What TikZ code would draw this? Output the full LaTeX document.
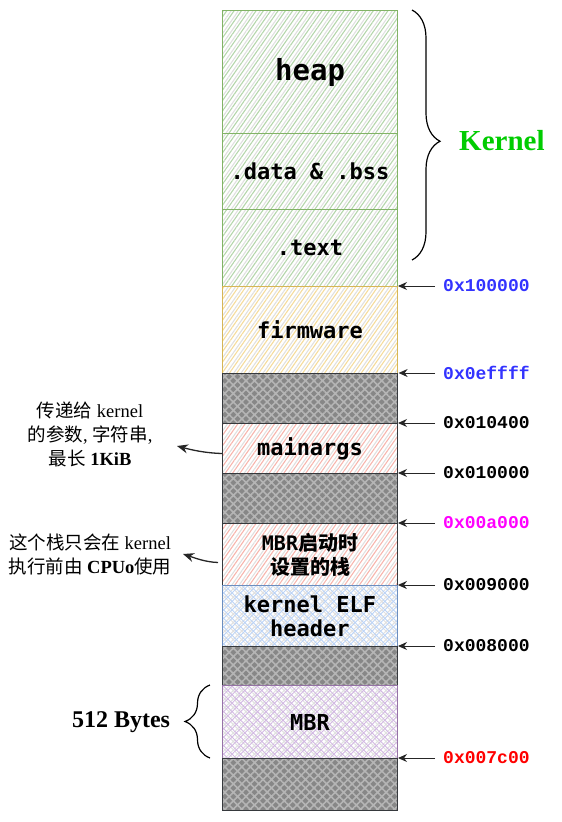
\documentclass[tikz,border=0pt]{standalone}
\usepackage{fontspec}
\setmainfont{Liberation Serif}
\newfontfamily\cjk{Noto Sans CJK SC}
\newfontfamily\boxmono{DejaVu Sans Mono}
\newfontfamily\addrmono{Liberation Mono}
\usetikzlibrary{patterns.meta,arrows.meta,decorations.pathreplacing,calc}
\definecolor{gborder}{HTML}{82B366}
\definecolor{ghatch}{HTML}{B5D6AC}
\definecolor{yborder}{HTML}{D6B656}
\definecolor{yhatch}{HTML}{F5DC9C}
\definecolor{rborder}{HTML}{36393D}
\definecolor{rhatch}{HTML}{F7B5AD}
\definecolor{bborder}{HTML}{6C8EBF}
\definecolor{bhatch}{HTML}{BCD3F5}
\definecolor{pborder}{HTML}{9673A6}
\definecolor{phatch}{HTML}{D2B9E2}
\definecolor{ghline}{HTML}{E0E0E0}
\definecolor{grayfill}{HTML}{878787}
\definecolor{grayline}{HTML}{B5B5B5}
\definecolor{addrblue}{HTML}{3333FF}
\definecolor{addrmag}{HTML}{FF00FF}
\definecolor{addrred}{HTML}{FF0000}
\definecolor{kgreen}{HTML}{00CC00}
\begin{document}
\begin{tikzpicture}[x=1pt,y=-1pt,
  blk/.style={draw, line width=1pt, minimum width=175pt, anchor=north west, inner sep=0pt, align=center,
    font=\boxmono\bfseries\fontsize{22}{24}\selectfont},
  hatchblk/.style={blk, preaction={pattern={Lines[angle=55,distance=6pt,line width=1.1pt]}, pattern color=ghline},
    pattern={Lines[angle=55,distance=6pt,xshift=3pt,line width=1.1pt]}, pattern color=#1},
  crossblk/.style={blk, preaction={pattern={Hatch[angle=45,distance=6pt,line width=1pt]}, pattern color=ghline},
    pattern={Hatch[angle=45,distance=6pt,xshift=3pt,line width=0.9pt]}, pattern color=#1},
  greenblk/.style={hatchblk=ghatch, draw=gborder},
  yellowblk/.style={hatchblk=yhatch, draw=yborder},
  redblk/.style={hatchblk=rhatch, draw=rborder},
  blueblk/.style={crossblk=bhatch, draw=bborder},
  purpleblk/.style={crossblk=phatch, draw=pborder},
  grayblk/.style={blk, draw=rborder, preaction={fill=grayfill}, pattern={Hatch[angle=45,distance=6pt,line width=1.6pt]}, pattern color=grayline},
  addr/.style={anchor=west, inner sep=0pt, font=\addrmono\bfseries\fontsize{18}{20}\selectfont},
  arr/.style={-{Stealth[length=9pt,width=8pt]}, line width=1pt, draw=black!85},
  note/.style={align=center, font=\fontsize{18.5}{24}\selectfont},
  brc/.style={decorate, line width=1.2pt}
]
\useasboundingbox (0,0) rectangle (562,822);

% memory blocks
\node[greenblk, minimum height=123pt, font=\boxmono\bfseries\fontsize{29}{30}\selectfont] (heap) at (222,10) {heap};
\node[greenblk, minimum height=76pt] (data) at (222,133) {.data \& .bss};
\node[greenblk, minimum height=77pt] (text) at (222,209) {.text};
\node[yellowblk, minimum height=87pt] (fw) at (222,286) {firmware};
\node[grayblk, minimum height=50pt] (g1) at (222,373) {};
\node[redblk, minimum height=50pt] (margs) at (222,423) {mainargs};
\node[grayblk, minimum height=50pt] (g2) at (222,473) {};
\node[redblk, minimum height=62pt, font=\bfseries\fontsize{20}{24}\selectfont] (stack) at (222,523)
  {{\boxmono MBR}{\cjk 启动时}\\{\cjk 设置的栈}};
\node[blueblk, minimum height=61pt] (elf) at (222,585) {kernel ELF\\header};
\node[grayblk, minimum height=39pt] (g3) at (222,646) {};
\node[purpleblk, minimum height=73pt] (mbr) at (222,685) {MBR};
\node[grayblk, minimum height=52pt] (g4) at (222,758) {};

% address labels
\node[addr, text=addrblue] (a1) at (443,286) {0x100000};
\node[addr, text=addrblue] (a2) at (443,373) {0x0effff};
\node[addr] (a3) at (443,423) {0x010400};
\node[addr] (a4) at (443,473) {0x010000};
\node[addr, text=addrmag] (a5) at (443,523) {0x00a000};
\node[addr] (a6) at (443,585) {0x009000};
\node[addr] (a7) at (443,646) {0x008000};
\node[addr, text=addrred] (a8) at (443,758) {0x007c00};

\draw[arr] ([xshift=-8pt]a1.west) -- (a1.west -| fw.east);
\draw[arr] ([xshift=-8pt]a2.west) -- (a2.west -| g1.east);
\draw[arr] ([xshift=-8pt]a3.west) -- (a3.west -| margs.east);
\draw[arr] ([xshift=-8pt]a4.west) -- (a4.west -| g2.east);
\draw[arr] ([xshift=-8pt]a5.west) -- (a5.west -| stack.east);
\draw[arr] ([xshift=-8pt]a6.west) -- (a6.west -| elf.east);
\draw[arr] ([xshift=-8pt]a7.west) -- (a7.west -| g3.east);
\draw[arr] ([xshift=-8pt]a8.west) -- (a8.west -| g4.east);

% Kernel brace
\coordinate (kb1) at (412,10);
\coordinate (kb2) at (412,260);
\draw[brc, decoration={brace, amplitude=28pt, aspect=0.525}] (kb1) -- (kb2);
\node[anchor=west, inner sep=0pt, text=kgreen, font=\bfseries\fontsize{29}{30}\selectfont] (klabel) at (459,141) {Kernel};

% 512 Bytes brace
\coordinate (mb1) at (210,758);
\coordinate (mb2) at (210,685);
\draw[brc, decoration={brace, amplitude=25pt}] (mb1) -- (mb2);
\node[inner sep=0pt, font=\bfseries\fontsize{24}{26}\selectfont] (bytes) at (121,722) {512 Bytes};

% notes
\node[note] (n1) at (90,434) {{\cjk 传递给} kernel\\{\cjk 的参数}, {\cjk 字符串},\\{\cjk 最长} \textbf{1KiB}};
\node[note] (n2) at (90,554) {{\cjk 这个栈只会在} kernel\\{\cjk 执行前由} \textbf{CPUo}{\cjk 使用}};
\coordinate (m1) at ($(margs.west)+(0,5)$);
\coordinate (t1) at (177,446);
\draw[arr, line width=1.3pt, -{Stealth[length=11pt,width=9pt]}] (m1) .. controls (205,453) and (192,450) .. (t1);
\coordinate (m2) at ($(stack.west)+(-4,8)$);
\coordinate (t2) at (183,554);
\draw[arr, line width=1.3pt, -{Stealth[length=11pt,width=9pt]}] (m2) .. controls (205,562) and (195,558) .. (t2);
\end{tikzpicture}
\end{document}
